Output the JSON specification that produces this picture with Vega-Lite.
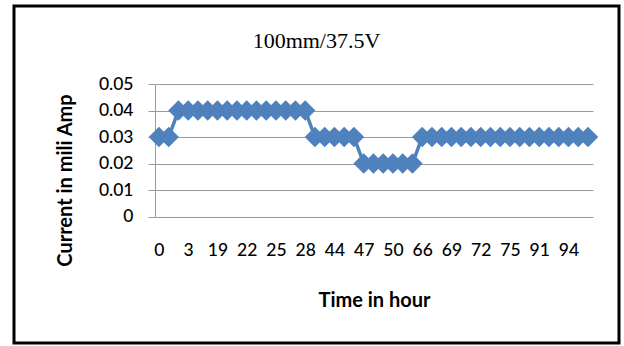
{
  "$schema": "https://vega.github.io/schema/vega-lite/v6.json",
  "width": 624,
  "height": 346,
  "autosize": {"type": "fit", "contains": "padding"},
  "padding": {"left": 14, "top": 6, "right": 5, "bottom": 3},
  "background": "white",
  "title": {
    "text": "100mm/37.5V",
    "font": "Liberation Serif",
    "fontSize": 22,
    "fontWeight": "normal",
    "color": "#000000",
    "anchor": "middle",
    "offset": -47
  },
  "data": {
    "values": [
      {"hour": 0, "current": 0.03},
      {"hour": 1, "current": 0.03},
      {"hour": 2, "current": 0.04},
      {"hour": 3, "current": 0.04},
      {"hour": 4, "current": 0.04},
      {"hour": 18, "current": 0.04},
      {"hour": 19, "current": 0.04},
      {"hour": 20, "current": 0.04},
      {"hour": 21, "current": 0.04},
      {"hour": 22, "current": 0.04},
      {"hour": 23, "current": 0.04},
      {"hour": 24, "current": 0.04},
      {"hour": 25, "current": 0.04},
      {"hour": 26, "current": 0.04},
      {"hour": 27, "current": 0.04},
      {"hour": 28, "current": 0.04},
      {"hour": 42, "current": 0.03},
      {"hour": 43, "current": 0.03},
      {"hour": 44, "current": 0.03},
      {"hour": 45, "current": 0.03},
      {"hour": 46, "current": 0.03},
      {"hour": 47, "current": 0.02},
      {"hour": 48, "current": 0.02},
      {"hour": 49, "current": 0.02},
      {"hour": 50, "current": 0.02},
      {"hour": 51, "current": 0.02},
      {"hour": 52, "current": 0.02},
      {"hour": 66, "current": 0.03},
      {"hour": 67, "current": 0.03},
      {"hour": 68, "current": 0.03},
      {"hour": 69, "current": 0.03},
      {"hour": 70, "current": 0.03},
      {"hour": 71, "current": 0.03},
      {"hour": 72, "current": 0.03},
      {"hour": 73, "current": 0.03},
      {"hour": 74, "current": 0.03},
      {"hour": 75, "current": 0.03},
      {"hour": 76, "current": 0.03},
      {"hour": 90, "current": 0.03},
      {"hour": 91, "current": 0.03},
      {"hour": 92, "current": 0.03},
      {"hour": 93, "current": 0.03},
      {"hour": 94, "current": 0.03},
      {"hour": 95, "current": 0.03},
      {"hour": 96, "current": 0.03}
    ]
  },
  "encoding": {
    "x": {
      "field": "hour",
      "type": "ordinal",
      "scale": {"range": [141, 579], "padding": 0.46, "align": 0.44},
      "axis": {
        "values": [0, 3, 19, 22, 25, 28, 44, 47, 50, 66, 69, 72, 75, 91, 94],
        "orient": "bottom",
        "offset": -126.3,
        "domain": false,
        "ticks": false,
        "tickSize": 0,
        "grid": false,
        "labelAngle": 0,
        "labelPadding": 25,
        "labelFont": "Lato",
        "labelFontSize": 17.5,
        "labelFontWeight": 500,
        "labelColor": "#000000",
        "labelAlign": "center",
        "labelBaseline": "top",
        "title": "Time in hour",
        "titleFont": "Lato",
        "titleFontSize": 20,
        "titleFontWeight": "bold",
        "titleColor": "#000000",
        "titleX": 360,
        "titleY": 83.3,
        "titleAlign": "center",
        "titleBaseline": "middle"
      }
    },
    "y": {
      "field": "current",
      "type": "quantitative",
      "scale": {"domain": [0, 0.05], "range": [210.7, 78], "nice": false, "zero": true},
      "axis": {
        "values": [0, 0.01, 0.02, 0.03, 0.04, 0.05],
        "format": ".2~f",
        "orient": "left",
        "offset": -141,
        "domain": true,
        "domainColor": "#9a9a9a",
        "domainWidth": 1,
        "ticks": true,
        "tickSize": 7,
        "tickColor": "#9a9a9a",
        "tickWidth": 1,
        "grid": true,
        "gridColor": "#9a9a9a",
        "gridWidth": 1,
        "labelPadding": 15,
        "labelFont": "Lato",
        "labelFontSize": 17.5,
        "labelFontWeight": 500,
        "labelColor": "#000000",
        "title": "Current in mili Amp",
        "titleFont": "Lato",
        "titleFontSize": 20,
        "titleFontWeight": "bold",
        "titleColor": "#000000",
        "titleAngle": 270,
        "titleX": -89.5,
        "titleY": 174,
        "titleAlign": "center",
        "titleBaseline": "middle"
      }
    }
  },
  "layer": [
    {"mark": {"type": "line", "color": "#4F81BD", "strokeWidth": 3.5}},
    {"mark": {"type": "point", "shape": "diamond", "filled": true, "size": 420, "color": "#4F81BD", "opacity": 1}}
  ],
  "config": {
    "view": {"stroke": "#000000", "strokeWidth": 3}
  }
}
